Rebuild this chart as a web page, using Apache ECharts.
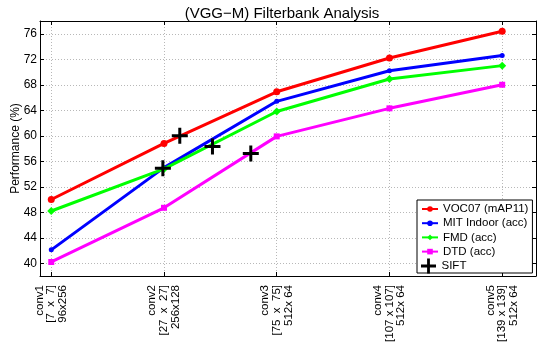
<!DOCTYPE html>
<html>
<head>
<meta charset="utf-8">
<script src="https://cdn.jsdelivr.net/npm/echarts@6/dist/echarts.min.js"></script>
<style>
html, body { margin: 0; padding: 0; background: #fff; }
#chart { width: 539px; height: 349px; }
</style>
</head>
<body>
<div id="chart"></div>
<script>
// layer positions and their tick labels
const layerPos = [1, 2, 3, 4, 5];
const layerLabels = [
	'conv1\n[7  x  7]\n96x256',
	'conv2\n[27  x  27]\n256x128',
	'conv3\n[75  x  75]\n512x 64',
	'conv4\n[107 x 107]\n512x 64',
	'conv5\n[139 x 139]\n512x 64'
];
const yTicks = [40, 44, 48, 52, 56, 60, 64, 68, 72, 76];

// performance per layer (%)
const voc07 = [50.0, 58.8, 66.9, 72.2, 76.4];
const mitIndoor = [42.1, 55.0, 65.4, 70.2, 72.6];
const fmd = [48.2, 54.8, 63.8, 68.9, 71.0];
const dtd = [40.2, 48.7, 59.9, 64.3, 68.0];

// SIFT baselines (placed between layers)
const siftX = [1.99, 2.14, 2.43, 2.77];
const siftY = [54.9, 60.0, 58.3, 57.2];

const FONT = '"Liberation Sans", Arial, sans-serif';
const plusPath = 'path://M6.5,0H9.5V6.5H16V9.5H9.5V16H6.5V9.5H0V6.5H6.5Z';

function pairs(xs, ys)
{
	return xs.map((x, i) => [x, ys[i]]);
}

function lineSeries(name, color, symbol, size, values)
{
	return {
		name: name,
		type: 'line',
		data: pairs(layerPos, values),
		symbol: symbol,
		symbolSize: size,
		showSymbol: true,
		lineStyle: { color: color, width: 3 },
		itemStyle: { color: color, opacity: 1 },
		emphasis: { disabled: true },
		z: 3
	};
}

const chart = echarts.init(document.getElementById('chart'), null, { renderer: 'canvas' });

const xBase = {
	type: 'value',
	min: 0.9,
	max: 5.3,
	axisLine: { show: true, onZero: false, lineStyle: { color: '#000', width: 1 } },
	axisTick: { show: true, inside: true, length: 4, customValues: layerPos, lineStyle: { color: '#000' } }
};
const yBase = {
	type: 'value',
	min: 38,
	max: 78,
	axisLine: { show: true, onZero: false, lineStyle: { color: '#000', width: 1 } },
	axisTick: { show: true, inside: true, length: 4, customValues: yTicks, lineStyle: { color: '#000' } }
};
const legendText = { fontFamily: FONT, fontSize: 11.5, lineHeight: 12, color: '#000' };

const option = {
	animation: false,
	backgroundColor: '#fff',
	title: {
		text: '(VGG\u2212M) Filterbank Analysis',
		left: 277,
		top: 1,
		textAlign: 'center',
		textStyle: { fontFamily: FONT, fontSize: 15, fontWeight: 'normal', color: '#000' }
	},
	grid: { left: 40, right: 3, top: 21, bottom: 73, containLabel: false, outerBoundsMode: 'none' },
	legend: [
		{
			orient: 'vertical',
			left: 417,
			top: 200,
			padding: [3, 4, 15.4, 4],
			itemGap: 2.2,
			itemWidth: 16,
			itemHeight: 7,
			backgroundColor: '#fff',
			borderColor: '#000',
			borderWidth: 1,
			borderRadius: 0,
			textStyle: legendText,
			data: ['VOC07 (mAP11)', 'MIT Indoor (acc)', 'FMD (acc)', 'DTD (acc)']
		},
		{
			orient: 'vertical',
			left: 421,
			top: 258.5,
			padding: 0,
			itemWidth: 16,
			itemHeight: 15,
			z: 10,
			textStyle: legendText,
			data: ['SIFT']
		}
	],
	xAxis: [
		Object.assign({}, xBase, {
			position: 'bottom',
			axisLabel: {
				show: true,
				customValues: layerPos,
				rotate: 90,
				margin: 9,
				fontFamily: FONT,
				fontSize: 11.5,
				lineHeight: 11.8,
				color: '#000',
				formatter: (v) => layerLabels[Math.round(v) - 1] || ''
			},
			splitLine: { show: true, lineStyle: { color: '#b8b8b8', type: [1, 2], width: 1 } }
		}),
		Object.assign({}, xBase, {
			position: 'top',
			axisLabel: { show: false },
			splitLine: { show: false }
		})
	],
	yAxis: [
		Object.assign({}, yBase, {
			position: 'left',
			name: 'Performance (%)',
			nameLocation: 'middle',
			nameGap: 18,
			nameMoveOverlap: false,
			nameTextStyle: { fontFamily: FONT, fontSize: 12, color: '#000' },
			axisLabel: {
				show: true,
				customValues: yTicks,
				margin: 3,
				fontFamily: FONT,
				fontSize: 12,
				color: '#000'
			},
			splitLine: { show: true, lineStyle: { color: '#b8b8b8', type: [1, 2], width: 1 } }
		}),
		Object.assign({}, yBase, {
			position: 'right',
			axisLabel: { show: false },
			splitLine: { show: false }
		})
	],
	series: [
		lineSeries('VOC07 (mAP11)', '#ff0000', 'circle', 7, voc07),
		lineSeries('MIT Indoor (acc)', '#0000ff', 'circle', 5, mitIndoor),
		lineSeries('FMD (acc)', '#00ff00', 'diamond', 8, fmd),
		lineSeries('DTD (acc)', '#ff00ff', 'rect', 6, dtd),
		{
			name: 'SIFT',
			type: 'scatter',
			data: pairs(siftX, siftY),
			symbol: plusPath,
			symbolSize: 16,
			itemStyle: { color: '#000', opacity: 1 },
			emphasis: { disabled: true },
			z: 5
		}
	]
};

chart.setOption(option);
</script>
</body>
</html>
